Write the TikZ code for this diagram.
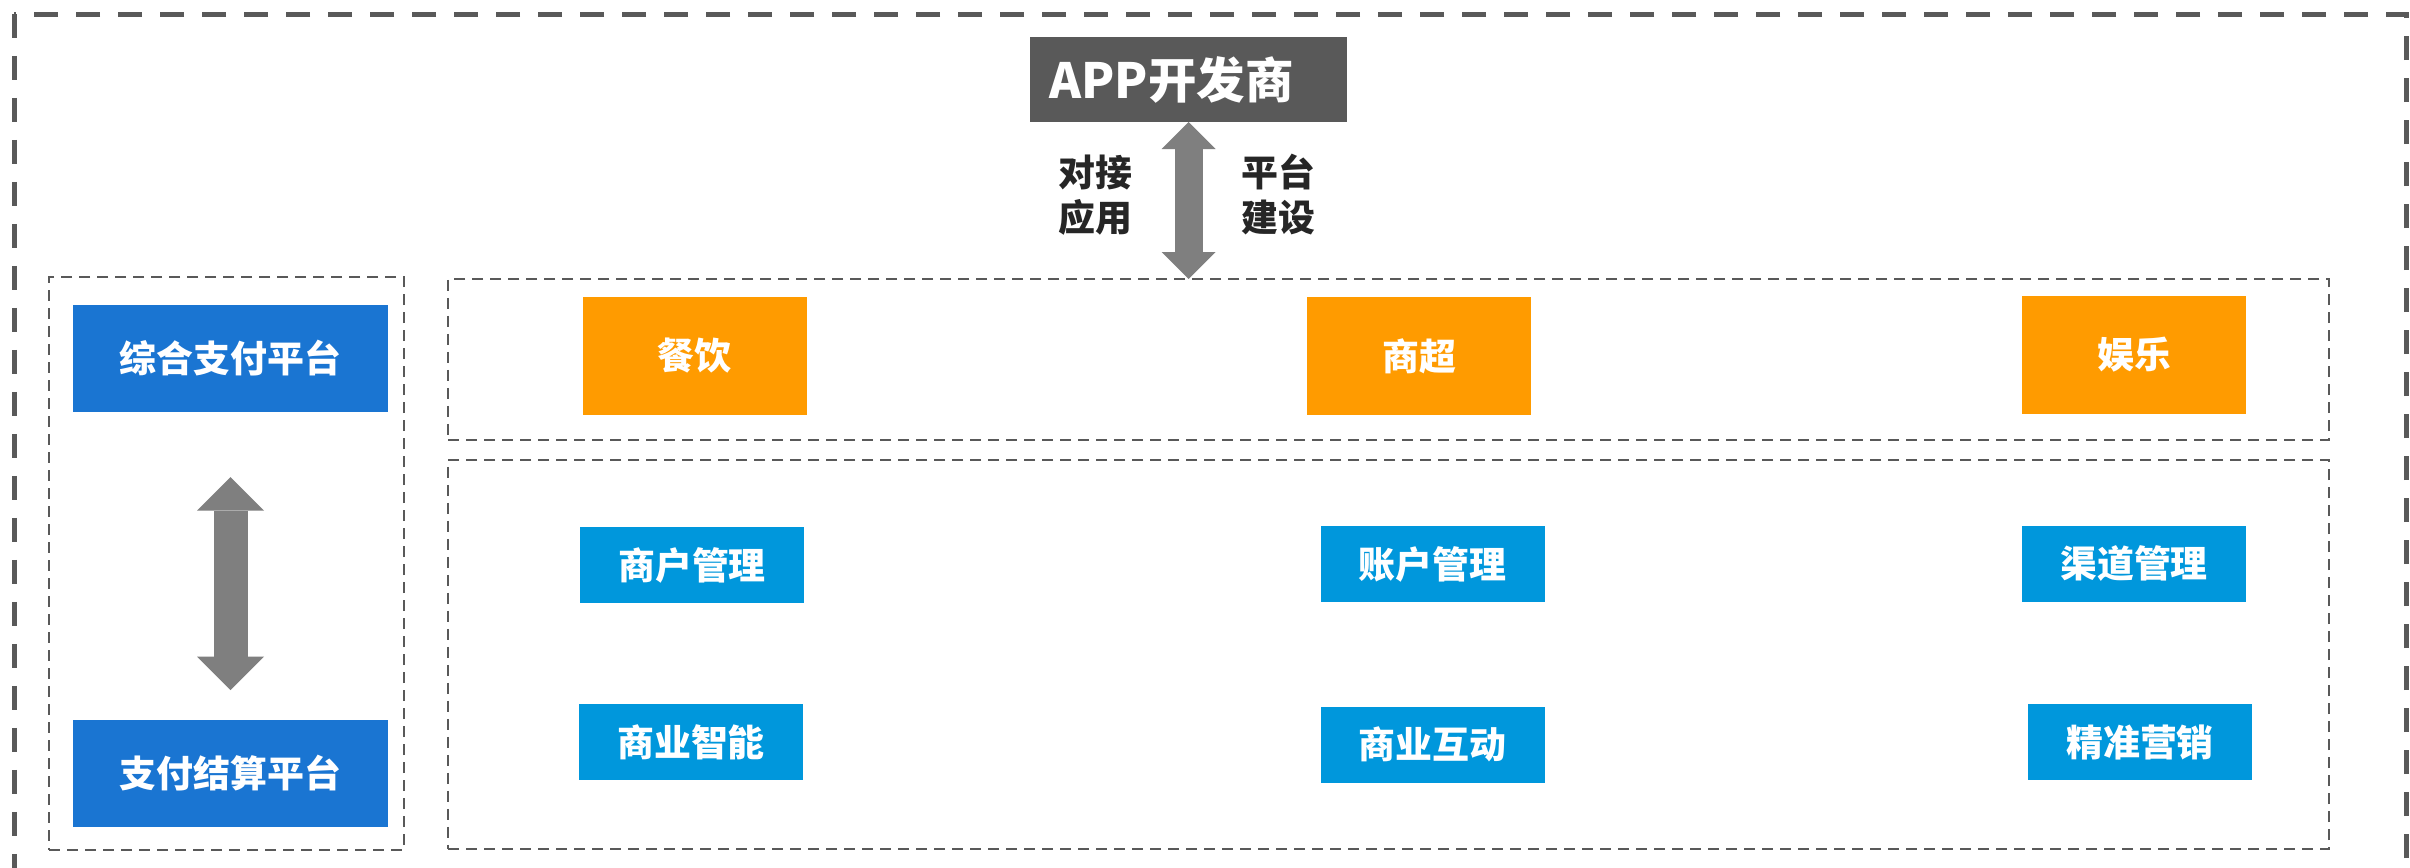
\documentclass[tikz,border=0pt]{standalone}
\usepackage{fontspec}
\setmainfont{Noto Sans CJK SC}
\usetikzlibrary{arrows.meta}
\definecolor{dgray}{HTML}{595959}
\definecolor{agray}{HTML}{7F7F7F}
\definecolor{orng}{HTML}{FF9B00}
\definecolor{pblue}{HTML}{1A75D2}
\definecolor{lblue}{HTML}{0097DC}
\definecolor{ltxt}{HTML}{262626}
\tikzset{
  box/.style={inner sep=0pt, outer sep=0pt, text=white, font=\bfseries\fontsize{10.5pt}{12pt}\selectfont},
  obox/.style={box, fill=orng, minimum width=22.4mm, minimum height=11.8mm},
  fbox/.style={box, fill=lblue, minimum width=22.4mm, minimum height=7.6mm},
  pbox/.style={box, fill=pblue, minimum width=31.5mm, minimum height=10.7mm},
  appbox/.style={box, fill=dgray, minimum width=31.7mm, minimum height=8.5mm, font=\bfseries\fontsize{13.8pt}{15pt}\selectfont},
  frame/.style={draw=dgray, line width=0.2mm, dash pattern=on 1.1mm off 0.7mm, inner sep=0pt, outer sep=0pt},
  outerframe/.style={draw=dgray, line width=0.5mm, dash pattern=on 2.4mm off 1.8mm},
  lbl/.style={text=ltxt, align=center, inner sep=0pt, font=\bfseries\fontsize{10.5pt}{12.8pt}\selectfont},
  bigarrow/.style={draw=agray, line width=2.8mm,
    {Triangle[width=5.4mm,length=2.7mm,line width=0pt]}-{Triangle[width=5.4mm,length=2.7mm,line width=0pt]}},
  sidearrow/.style={draw=agray, line width=3.4mm,
    {Triangle[width=6.7mm,length=3.35mm,line width=0pt]}-{Triangle[width=6.7mm,length=3.35mm,line width=0pt]}},
}
\begin{document}
\begin{tikzpicture}[x=0.1mm,y=-0.1mm]
\useasboundingbox (0,0) rectangle (2410,868);
\fill[white] (0,0) rectangle (2410,868);
\clip (0,0) rectangle (2410,868);
% outer frame
\draw[outerframe] (14,14) rectangle (2406,920);
% containers
\node[frame, minimum width=35.5mm, minimum height=57.3mm] (leftbox) at (226.5,563.5) {};
\node[frame, minimum width=188.1mm, minimum height=16.1mm] (cats) at (1388.5,359.5) {};
\node[frame, minimum width=188.1mm, minimum height=38.9mm] (funcs) at (1388.5,654.5) {};
% APP developer
\node[appbox] (app) at (1188.5,79.5) {APP开发商\kern3.4mm\relax};
\node[lbl] (l1) at (1095,195) {对接\\应用};
\node[lbl] (l2) at (1278,195) {平台\\建设};
% payment platforms
\node[pbox] (pay1) at (230.5,358.5) {综合支付平台};
\node[pbox] (pay2) at (230.5,773.5) {支付结算平台};
% categories
\node[obox] (c1) at (694.5,356) {餐饮};
\node[obox] (c2) at (1419,356) {商超};
\node[obox] (c3) at (2134,355) {娱乐};
% functions
\node[fbox] (f1) at (692,565) {商户管理};
\node[fbox] (f2) at (1432.5,564) {账户管理};
\node[fbox] (f3) at (2134,564) {渠道管理};
\node[fbox] (f4) at (691,742) {商业智能};
\node[fbox] (f5) at (1432.5,744.5) {商业互动};
\node[fbox] (f6) at (2140,742) {精准营销};
% arrows
\draw[bigarrow] (app.south) -- (app.south |- cats.north);
\draw[sidearrow, shorten <=6.5mm, shorten >=3mm] (pay1.south) -- (pay2.north);
\end{tikzpicture}
\end{document}
